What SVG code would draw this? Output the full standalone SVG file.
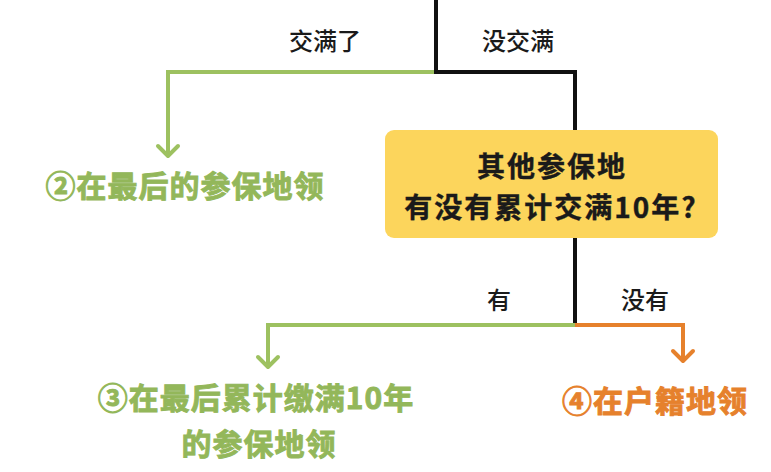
<svg xmlns="http://www.w3.org/2000/svg" width="771" height="472" viewBox="0 0 771 472">
<style>
text{font-family:"Noto Sans CJK SC","Noto Sans",sans-serif;text-anchor:middle;dominant-baseline:central}
.lbl{font-size:24px;font-weight:500;fill:#1a1a1a}
.q{font-size:28px;font-weight:bold;fill:#1a1a1a;stroke:#1a1a1a;stroke-width:0.4;letter-spacing:2px}
.g{font-size:30px;font-weight:bold;fill:#93b75a;stroke:#93b75a;stroke-width:0.9;letter-spacing:1px}
.o{font-size:30px;font-weight:bold;fill:#e6812c;stroke:#e6812c;stroke-width:0.9;letter-spacing:1px}
.k{fill:none;stroke:#111;stroke-width:4;stroke-linejoin:miter}
.gl{fill:none;stroke:#9dc160;stroke-width:4;stroke-linejoin:miter}
.ol{fill:none;stroke:#e6812c;stroke-width:4;stroke-linejoin:miter}
.ah{fill:none;stroke-width:4;stroke-linecap:round;stroke-linejoin:round}
</style>
<rect width="771" height="472" fill="#fff"/>
<g id="connectors">
<path class="gl" d="M436 72 H168 V155"/>
<path class="ah" stroke="#9dc160" d="M158 146 L168 156 L178 146"/>
<path class="k" d="M436 0 V72 H575 V131"/>
<path class="k" d="M575 237 V325"/>
<path class="gl" d="M575 325 H268 V366"/>
<path class="ah" stroke="#9dc160" d="M258 357 L268 367 L278 357"/>
<path class="ol" d="M575 325 H683 V360"/>
<path class="ah" stroke="#e6812c" d="M673 351 L683 361 L693 351"/>
<text class="lbl" x="325" y="39">交满了</text>
<text class="lbl" x="518" y="39">没交满</text>
<text class="lbl" x="499" y="298">有</text>
<text class="lbl" x="645" y="298">没有</text>
</g>
<g id="node-question">
<rect x="385" y="130" width="333" height="108" rx="9" fill="#fcd55c"/>
<text class="q" x="552" y="165">其他参保地</text>
<text class="q" x="551" y="206">有没有累计交满10年?</text>
</g>
<g id="node-2">
<text class="g" x="185" y="184">②在最后的参保地领</text>
</g>
<g id="node-3">
<text class="g" x="256" y="396">③在最后累计缴满10年</text>
<text class="g" x="259" y="442">的参保地领</text>
</g>
<g id="node-4">
<text class="o" x="655" y="399">④在户籍地领</text>
</g>
</svg>
